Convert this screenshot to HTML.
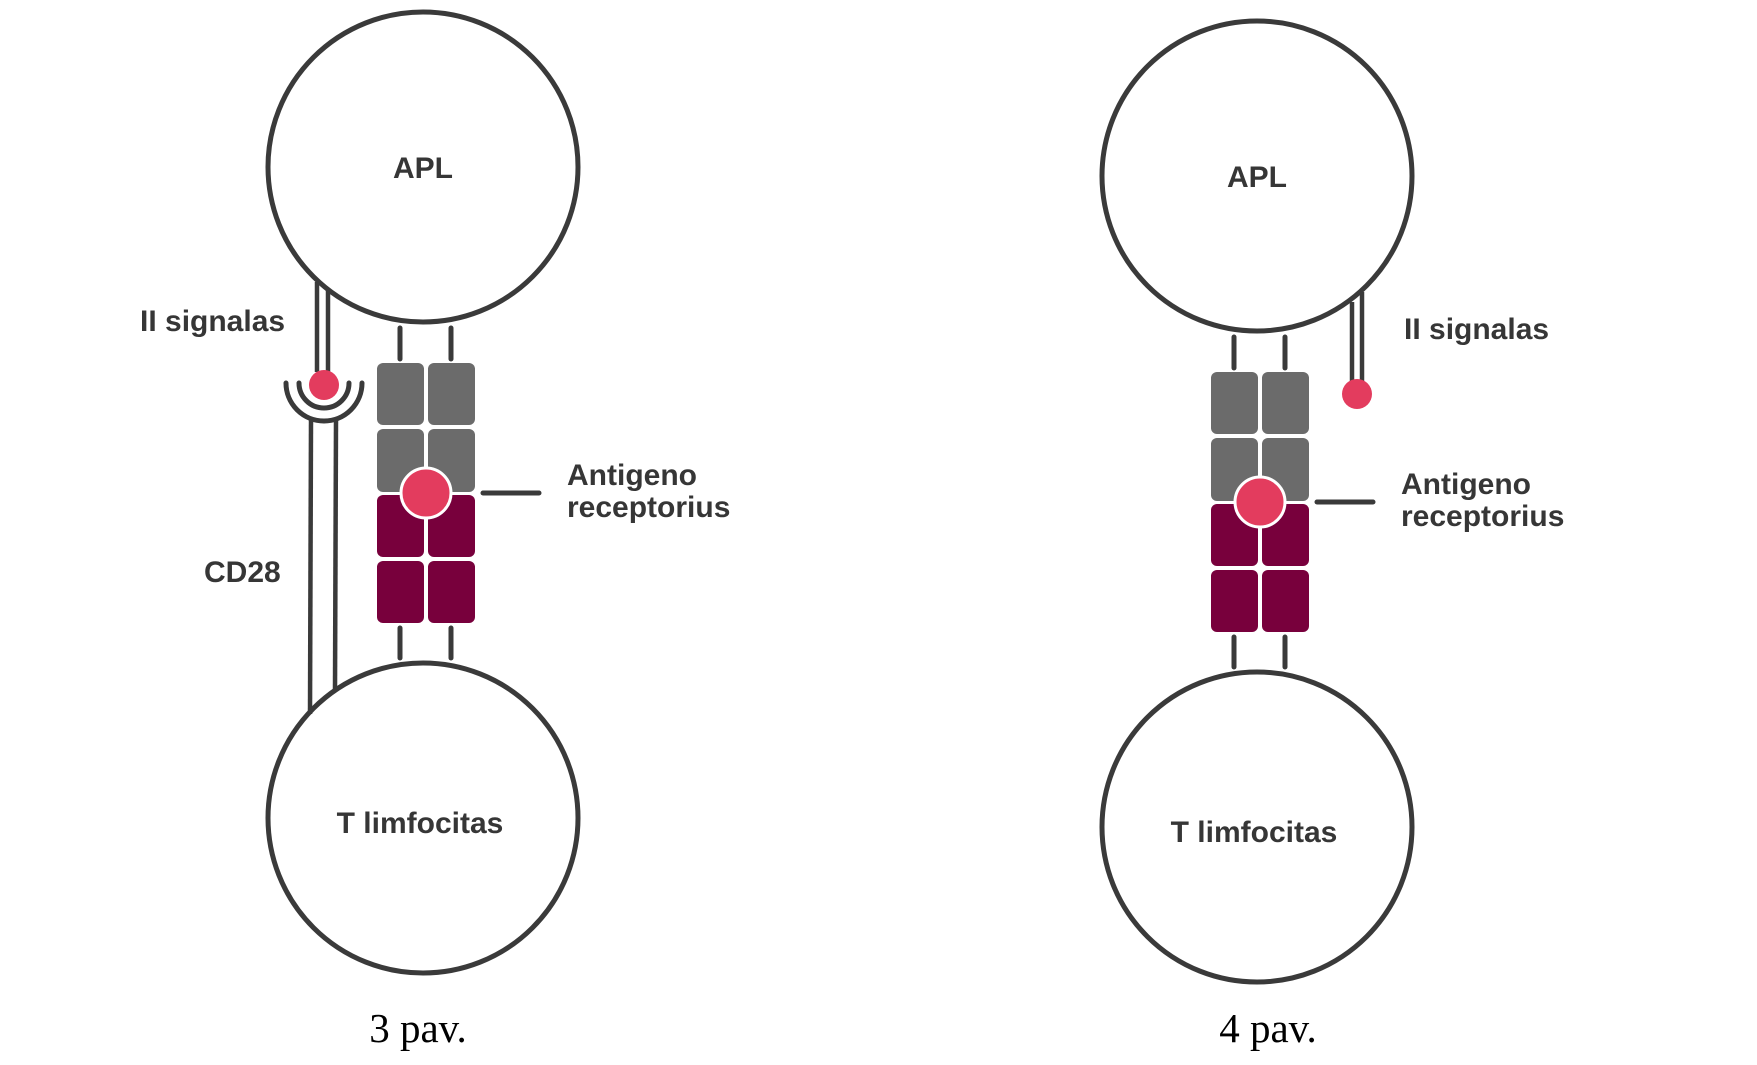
<!DOCTYPE html>
<html><head><meta charset="utf-8"><style>
html,body{margin:0;padding:0;background:#fff;}
svg{display:block;}
.t{font-family:"Liberation Sans",sans-serif;font-weight:bold;fill:#363636;font-size:30px;}
.c{font-family:"Liberation Serif",serif;fill:#000;font-size:41px;}
</style></head><body>
<svg width="1757" height="1065" viewBox="0 0 1757 1065" xmlns="http://www.w3.org/2000/svg">
<defs>
<g id="rec">
  <line x1="400" y1="328" x2="400" y2="359" stroke="#3a3a3a" stroke-width="5" stroke-linecap="round"/>
  <line x1="451" y1="328" x2="451" y2="359" stroke="#3a3a3a" stroke-width="5" stroke-linecap="round"/>
  <line x1="400" y1="628" x2="400" y2="658" stroke="#3a3a3a" stroke-width="5" stroke-linecap="round"/>
  <line x1="451" y1="628" x2="451" y2="658" stroke="#3a3a3a" stroke-width="5" stroke-linecap="round"/>
  <rect x="377" y="363" width="47" height="62" rx="6" fill="#6b6b6b"/>
  <rect x="428" y="363" width="47" height="62" rx="6" fill="#6b6b6b"/>
  <rect x="377" y="429" width="47" height="63" rx="6" fill="#6b6b6b"/>
  <rect x="428" y="429" width="47" height="63" rx="6" fill="#6b6b6b"/>
  <rect x="377" y="495" width="47" height="62" rx="6" fill="#78003c"/>
  <rect x="428" y="495" width="47" height="62" rx="6" fill="#78003c"/>
  <rect x="377" y="561" width="47" height="62" rx="6" fill="#78003c"/>
  <rect x="428" y="561" width="47" height="62" rx="6" fill="#78003c"/>
  <circle cx="426" cy="493" r="25" fill="#e33c5e" stroke="#fff" stroke-width="3"/>
  <line x1="483" y1="493" x2="539" y2="493" stroke="#3a3a3a" stroke-width="5" stroke-linecap="round"/>
</g>
</defs>

<circle cx="423" cy="167" r="155" fill="none" stroke="#3a3a3a" stroke-width="5"/>
<circle cx="423" cy="818" r="155" fill="none" stroke="#3a3a3a" stroke-width="5"/>
<use href="#rec"/>
<line x1="317" y1="282" x2="317" y2="372" stroke="#3a3a3a" stroke-width="4.5"/>
<line x1="328" y1="289" x2="328" y2="372" stroke="#3a3a3a" stroke-width="4.5"/>
<circle cx="324" cy="385" r="15" fill="#e33c5e"/>
<path d="M286 383 A38 38 0 0 0 362 383" fill="none" stroke="#3a3a3a" stroke-width="5" stroke-linecap="round"/>
<path d="M299 383 A25 25 0 0 0 349 383" fill="none" stroke="#3a3a3a" stroke-width="5" stroke-linecap="round"/>
<line x1="311" y1="420" x2="310" y2="714" stroke="#3a3a3a" stroke-width="4.5"/>
<line x1="336" y1="420" x2="335" y2="689" stroke="#3a3a3a" stroke-width="4.5"/>
<text class="t" x="423" y="178" text-anchor="middle">APL</text>
<text class="t" x="420" y="833" text-anchor="middle">T limfocitas</text>
<text class="t" x="140" y="331">II signalas</text>
<text class="t" x="204" y="582">CD28</text>
<text class="t" x="567" y="485">Antigeno</text>
<text class="t" x="567" y="517">receptorius</text>
<text class="c" x="418" y="1042" text-anchor="middle">3 pav.</text>

<circle cx="1257" cy="176" r="155" fill="none" stroke="#3a3a3a" stroke-width="5"/>
<circle cx="1257" cy="827" r="155" fill="none" stroke="#3a3a3a" stroke-width="5"/>
<g transform="translate(834,9)"><use href="#rec"/></g>
<line x1="1352" y1="302" x2="1352" y2="384" stroke="#3a3a3a" stroke-width="4.5"/>
<line x1="1362" y1="292" x2="1362" y2="384" stroke="#3a3a3a" stroke-width="4.5"/>
<circle cx="1357" cy="394" r="15" fill="#e33c5e"/>
<text class="t" x="1257" y="187" text-anchor="middle">APL</text>
<text class="t" x="1254" y="842" text-anchor="middle">T limfocitas</text>
<text class="t" x="1404" y="339">II signalas</text>
<text class="t" x="1401" y="494">Antigeno</text>
<text class="t" x="1401" y="526">receptorius</text>
<text class="c" x="1268" y="1042" text-anchor="middle">4 pav.</text>
</svg>
</body></html>
